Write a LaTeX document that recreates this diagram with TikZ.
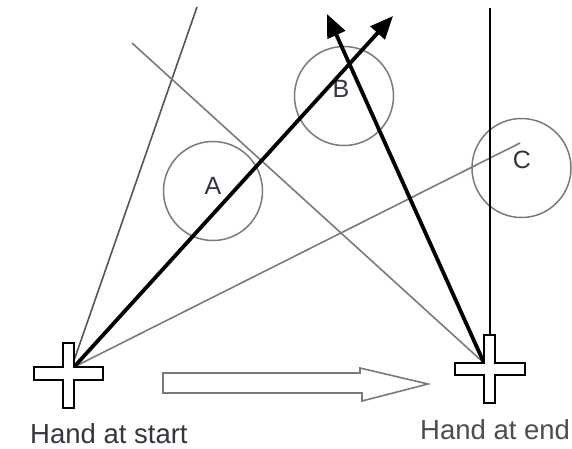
\documentclass[tikz,border=0pt]{standalone}
\usepackage{fontspec}
\setmainfont{Liberation Sans}
\usetikzlibrary{arrows.meta}
\definecolor{lblcol}{HTML}{35353F}
\definecolor{thingray}{HTML}{7A7A7A}
\definecolor{darkgray}{HTML}{555555}
\begin{document}
\begin{tikzpicture}[x=1pt,y=-1pt,
  ray/.style={line width=1.6pt, draw=thingray},
  darkray/.style={line width=1.6pt, draw=darkgray},
  move/.style={line width=3.8pt, draw=black, -{Triangle[length=23pt,width=19pt]}},
  target/.style={circle, draw=thingray, line width=1.5pt, inner sep=0pt, minimum size=99pt},
  letter/.style={inner sep=0pt, text=lblcol, font=\fontsize{25}{27}\selectfont},
  caption/.style={inner sep=0pt, anchor=base west, text=lblcol, font=\fontsize{27.5}{29}\selectfont},
  handcross/.style={draw=black, line width=2pt, fill=white, line join=miter},
  blockarrow/.style={draw=thingray, line width=1.6pt, fill=white, line join=miter}
]
\useasboundingbox (0,0) rectangle (572,448);

% coordinates
\coordinate (S) at (74,367);
\coordinate (S1) at (70,372);
\coordinate (E) at (484,363);
\coordinate (T1) at (197,7);
\coordinate (T2) at (132,43);
\coordinate (T3) at (520,143);
\coordinate (TA) at (393,16);
\coordinate (TB) at (327,14);
\coordinate (V0) at (490,8);
\coordinate (V1) at (490,336);

% circles
\node[target] (cA) at (213,191) {};
\node[target] (cB) at (344,96) {};
\node[target] (cC) at (521.5,168) {};
\node[letter] (lA) at (213,186) {A};
\node[letter] (lB) at (341,89) {B};
\node[letter] (lC) at (522,160) {C};

% thin rays
\draw[darkray] (S1) -- (T1);
\draw[ray] (E) -- (T2);
\draw[ray] (S) -- (T3);
\draw[line width=2pt] (V0) -- (V1);

% movement arrows
\draw[move] (S) -- (TA);
\draw[move] (E) -- (TB);

% hands
\draw[handcross] (63,343) -- (74,343) -- (74,367) -- (103,367) -- (103,380) -- (74,380)
  -- (74,408) -- (63,408) -- (63,380) -- (34,380) -- (34,367) -- (63,367) -- cycle;
\draw[handcross] (484,335) -- (495,335) -- (495,363) -- (525,363) -- (525,375) -- (495,375)
  -- (495,403) -- (484,403) -- (484,375) -- (455,375) -- (455,363) -- (484,363) -- cycle;

% block arrow
\draw[blockarrow] (163,373) -- (360,373) -- (360,368) -- (428,384) -- (362,401)
  -- (362,393) -- (163,393) -- cycle;

% captions
\node[caption] (hs) at (30,443) {Hand at start};
\node[caption, text=black!70] (he) at (420,439) {Hand at end};
\end{tikzpicture}
\end{document}
